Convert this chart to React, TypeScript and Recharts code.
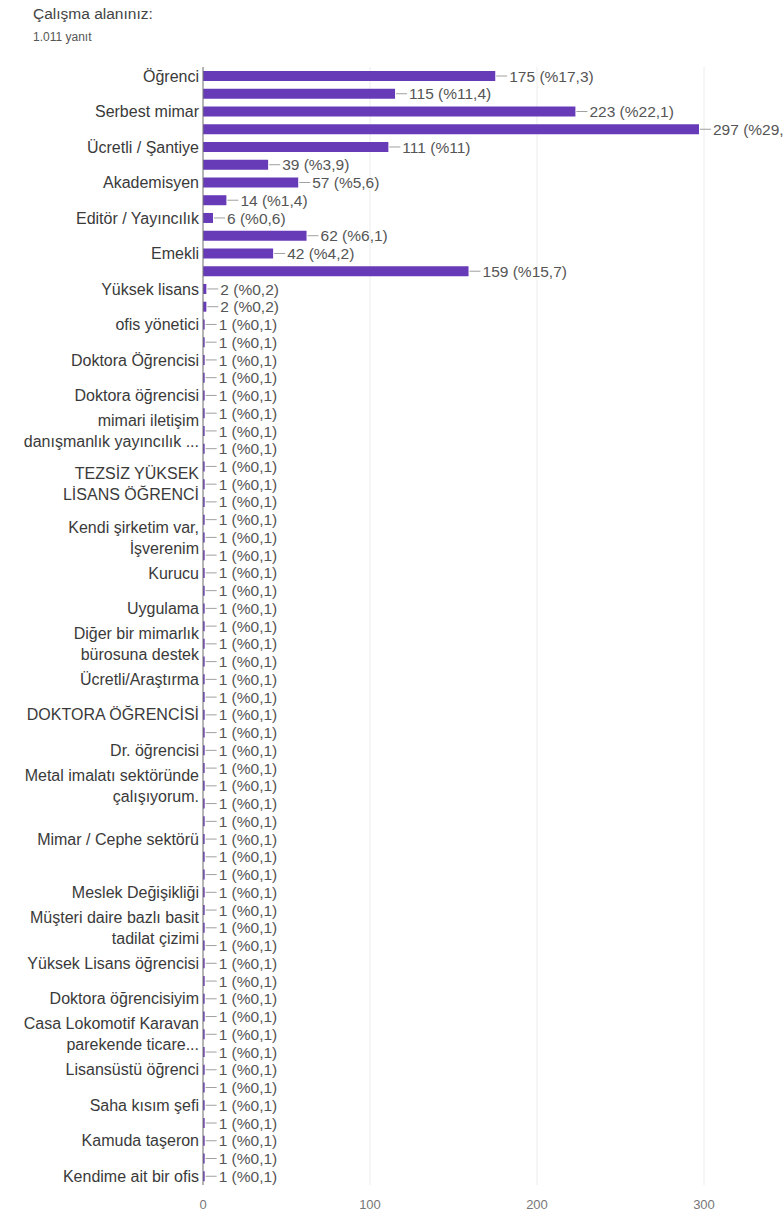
import { BarChart, Bar, XAxis, YAxis, CartesianGrid, LabelList } from 'recharts';

const TOTAL = 1011;

// one entry per bar, top to bottom; '' where the picture shows no label,
// '\n' where a label wraps onto two lines
const categories = [
  'Öğrenci', '', 'Serbest mimar', '', 'Ücretli / Şantiye', '', 'Akademisyen', '',
  'Editör / Yayıncılık', '', 'Emekli', '', 'Yüksek lisans', '', 'ofis yönetici', '',
  'Doktora Öğrencisi', '', 'Doktora öğrencisi', '',
  'mimari iletişim\ndanışmanlık yayıncılık ...', '', '',
  'TEZSİZ YÜKSEK\nLİSANS ÖĞRENCİ', '', '',
  'Kendi şirketim var,\nİşverenim', '', 'Kurucu', '', 'Uygulama', '',
  'Diğer bir mimarlık\nbürosuna destek', '', 'Ücretli/Araştırma', '',
  'DOKTORA ÖĞRENCİSİ', '', 'Dr. öğrencisi', '',
  'Metal imalatı sektöründe\nçalışıyorum.', '', '', 'Mimar / Cephe sektörü', '', '',
  'Meslek Değişikliği', '', 'Müşteri daire bazlı basit\ntadilat çizimi', '',
  'Yüksek Lisans öğrencisi', '', 'Doktora öğrencisiyim', '',
  'Casa Lokomotif Karavan\nparekende ticare...', '', 'Lisansüstü öğrenci', '',
  'Saha kısım şefi', '', 'Kamuda taşeron', '', 'Kendime ait bir ofis',
];

const counts = [
  175, 115, 223, 297, 111, 39, 57, 14, 6, 62, 42, 159, 2, 2,
  1, 1, 1, 1, 1, 1, 1, 1, 1, 1,
  1, 1, 1, 1, 1, 1, 1, 1, 1, 1,
  1, 1, 1, 1, 1, 1, 1, 1, 1, 1,
  1, 1, 1, 1, 1, 1, 1, 1, 1, 1,
  1, 1, 1, 1, 1, 1, 1, 1, 1,
];

const xTicks = [0, 100, 200, 300];

const data = counts.map((count, i) => ({ idx: i, label: categories[i], count }));

const FONT = '"Liberation Sans", Arial, sans-serif';

function pct(v: number) {
  const s = ((v / TOTAL) * 100).toFixed(1).replace(/\.0$/, '');
  return s.replace('.', ',');
}

function CategoryTick(props: any) {
  const { x, y, payload } = props;
  const text = categories[payload.value] || '';
  if (!text) return null;
  const lines = text.split('\n');
  const lh = 21;
  const start = -((lines.length - 1) * lh) / 2;
  return (
    <text x={x} y={y} textAnchor="end" fontSize={16} fill="#3a3a3a" fontFamily={FONT}>
      {lines.map((ln, i) => (
        <tspan key={i} x={x} y={y + start + i * lh} dy="0.36em">
          {ln}
        </tspan>
      ))}
    </text>
  );
}

function ValueLabel(props: any) {
  const { x, y, width, height, value } = props;
  const endX = x + width;
  const cy = y + height / 2;
  return (
    <g>
      <line x1={endX + 1} x2={endX + 12} y1={cy} y2={cy} stroke="#a0a0a0" strokeWidth={1} />
      <text x={endX + 14} y={cy} dy="0.36em" fontSize={15.5} fill="#555" fontFamily={FONT}>
        {`${value} (%${pct(value)})`}
      </text>
    </g>
  );
}

export default function App() {
  return (
    <div
      style={{
        position: 'absolute',
        left: 0,
        top: 0,
        width: 783,
        height: 1217,
        background: '#fff',
        overflow: 'hidden',
        fontFamily: FONT,
      }}
    >
      <div style={{ position: 'absolute', left: 33, top: 5, fontSize: 15.5, color: '#444' }}>
        Çalışma alanınız:
      </div>
      <div style={{ position: 'absolute', left: 33, top: 30, fontSize: 12, color: '#555' }}>
        1.011 yanıt
      </div>
      <div style={{ position: 'absolute', left: 0, top: 0 }}>
        <BarChart
          width={783}
          height={1217}
          data={data}
          layout="vertical"
          margin={{ top: 67, right: 79, bottom: 0, left: 0 }}
        >
          <CartesianGrid horizontal={false} stroke="#ececec" />
          <XAxis
            type="number"
            domain={[0, 300]}
            ticks={xTicks}
            axisLine={false}
            tickLine={false}
            tickSize={0}
            tickMargin={15}
            height={32}
            tick={{ fontSize: 13, fill: '#777', fontFamily: FONT }}
          />
          <YAxis
            type="category"
            dataKey="idx"
            width={203}
            interval={0}
            tickLine={false}
            tickSize={0}
            tickMargin={4}
            axisLine={{ stroke: '#777' }}
            tick={<CategoryTick />}
          />
          <Bar dataKey="count" fill="#673ab7" barSize={10} isAnimationActive={false}>
            <LabelList dataKey="count" content={<ValueLabel />} />
          </Bar>
        </BarChart>
      </div>
    </div>
  );
}
